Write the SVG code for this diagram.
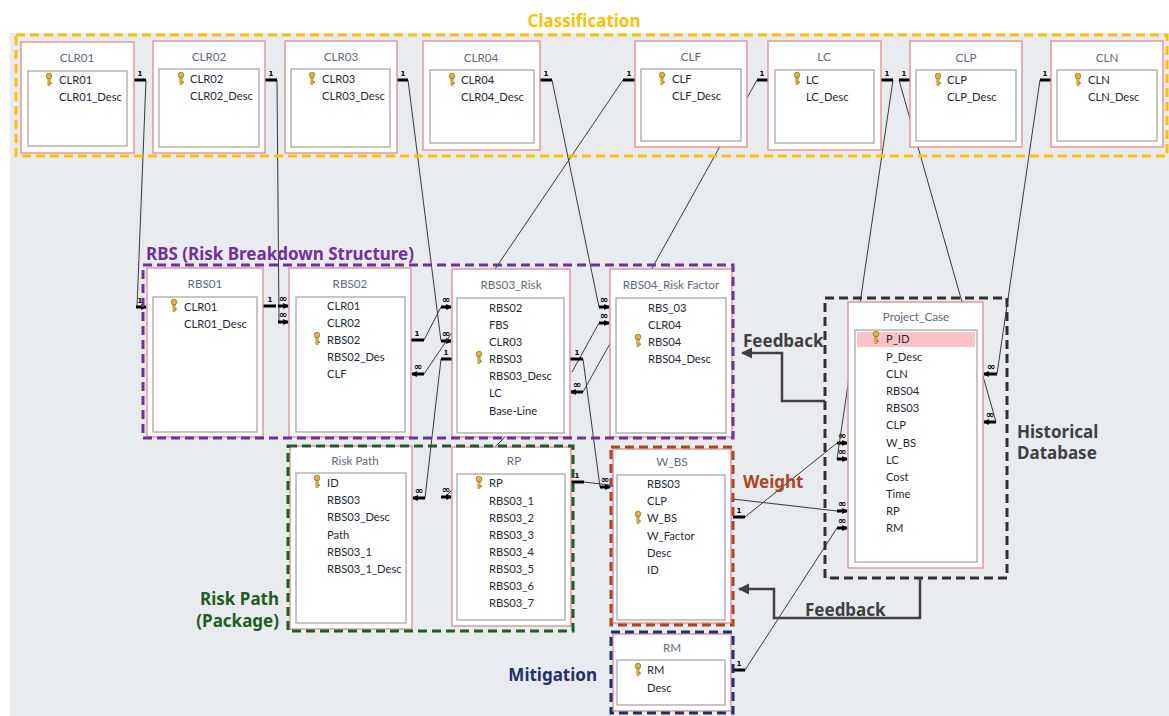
<svg xmlns="http://www.w3.org/2000/svg" width="1169" height="716" viewBox="0 0 1169 716">
<style>
.bg{fill:#e8ecef}
.tbl{fill:#ffffff;stroke:#e08a8e;stroke-width:1.3}
.inner{fill:#ffffff;stroke:#a8a8a8;stroke-width:1.3}
.ttl{font-family:Lato,"Noto Sans",sans-serif;font-size:11.7px;fill:#5d6b79;text-anchor:middle}
.fld{font-family:Lato,"Noto Sans",sans-serif;font-size:11.2px;fill:#1e2a36}
.ln{stroke:#3a3a3a;stroke-width:1;fill:none}
.bar{stroke:#000;stroke-width:3;fill:none}
.m1{font-family:"DejaVu Sans",sans-serif;font-size:7px;font-weight:bold;fill:#000;text-anchor:middle}
.mi{font-family:"DejaVu Sans",sans-serif;font-size:10px;font-weight:bold;fill:#000;text-anchor:middle}
.grp{fill:none;stroke-width:3;stroke-dasharray:9 5}
.lab{font-family:"Noto Sans","Open Sans",sans-serif;font-size:17px;font-weight:bold}
.fb{fill:none;stroke:#404040;stroke-width:2.5}
</style>
<defs>
<g id="key">
<circle cx="0" cy="-3" r="2.8" fill="#e2b43a" stroke="#8b6a14" stroke-width="0.7"/>
<rect x="-1.1" y="-0.5" width="2.2" height="7" fill="#e2b43a" stroke="#8b6a14" stroke-width="0.5"/>
<rect x="1" y="3.5" width="1.8" height="1.4" fill="#8b6a14"/>
</g>
<marker id="ar" viewBox="0 0 10 10" refX="8" refY="5" markerWidth="6" markerHeight="6" markerUnits="userSpaceOnUse" orient="auto"><path d="M0,0 L10,5 L0,10 z" fill="#000"/></marker>
<marker id="fa" viewBox="0 0 10 10" refX="9" refY="5" markerWidth="4.5" markerHeight="4.5" orient="auto"><path d="M0,0 L10,5 L0,10 z" fill="#404040"/></marker>
</defs>
<rect x="0" y="0" width="1169" height="716" fill="#ffffff"/>
<rect class="bg" x="10" y="33" width="1159" height="683"/>

<g id="connectors">
<!-- CLR01 -> RBS01 -->
<line class="ln" x1="146" y1="80" x2="137" y2="307"/>
<line class="bar" x1="134" y1="80" x2="146" y2="80"/><text class="m1" x="140" y="76">1</text>
<line class="bar" x1="136" y1="307" x2="146" y2="307" marker-end="url(#ar)"/><text class="m1" x="140" y="303">1</text>
<!-- CLR02 -> RBS02 -->
<line class="ln" x1="277" y1="80" x2="279" y2="322"/>
<line class="bar" x1="265" y1="80" x2="277" y2="80"/><text class="m1" x="271" y="76">1</text>
<line class="bar" x1="278" y1="322" x2="288" y2="322" marker-end="url(#ar)"/><text class="mi" x="283" y="318">∞</text>
<!-- RBS01 -> RBS02 -->
<line class="bar" x1="263" y1="306" x2="276" y2="306"/><text class="m1" x="270" y="302">1</text>
<line class="bar" x1="278" y1="306" x2="288" y2="306" marker-end="url(#ar)"/><text class="mi" x="283" y="302">∞</text>
<!-- CLR03 -> RBS03 -->
<line class="ln" x1="408" y1="80" x2="441" y2="341"/>
<line class="bar" x1="397" y1="80" x2="408" y2="80"/><text class="m1" x="403" y="76">1</text>
<line class="bar" x1="441" y1="341" x2="451" y2="341" marker-end="url(#ar)"/><text class="mi" x="446" y="337">∞</text>
<!-- RBS02 -> RBS03 -->
<line class="ln" x1="424" y1="340" x2="441" y2="307"/>
<line class="bar" x1="411" y1="340" x2="424" y2="340"/><text class="m1" x="417" y="336">1</text>
<line class="bar" x1="441" y1="307" x2="451" y2="307" marker-end="url(#ar)"/><text class="mi" x="446" y="303">∞</text>
<!-- CLF -> RBS02 -->
<line class="ln" x1="623" y1="80" x2="424" y2="374"/>
<line class="bar" x1="623" y1="80" x2="635" y2="80"/><text class="m1" x="629" y="76">1</text>
<line class="bar" x1="424" y1="374" x2="412" y2="374" marker-end="url(#ar)"/><text class="mi" x="418" y="370">∞</text>
<!-- RBS03 -> Risk Path -->
<line class="ln" x1="441" y1="359" x2="425" y2="498"/>
<line class="bar" x1="441" y1="359" x2="452" y2="359"/><text class="m1" x="446" y="355">1</text>
<line class="bar" x1="425" y1="498" x2="413" y2="498" marker-end="url(#ar)"/><text class="mi" x="419" y="494">∞</text>
<!-- RBS03 -> RP -->
<line class="ln" x1="445" y1="497" x2="525" y2="417"/>
<line class="bar" x1="441" y1="497" x2="451" y2="497" marker-end="url(#ar)"/><text class="mi" x="446" y="493">∞</text>
<!-- CLR04 -> RBS04 -->
<line class="ln" x1="552" y1="80" x2="599" y2="307"/>
<line class="bar" x1="540" y1="80" x2="552" y2="80"/><text class="m1" x="546" y="76">1</text>
<line class="bar" x1="599" y1="307" x2="609" y2="307" marker-end="url(#ar)"/><text class="mi" x="604" y="303">∞</text>
<!-- RBS03 -> RBS04 -->
<line class="ln" x1="572" y1="372" x2="599" y2="323"/>
<line class="bar" x1="599" y1="323" x2="609" y2="323" marker-end="url(#ar)"/><text class="mi" x="604" y="319">∞</text>
<line class="bar" x1="570" y1="359" x2="583" y2="359"/><text class="m1" x="577" y="355">1</text>
<!-- LC -> RBS03 -->
<line class="ln" x1="757" y1="80" x2="583" y2="392"/>
<line class="bar" x1="757" y1="80" x2="768" y2="80"/><text class="m1" x="762" y="76">1</text>
<line class="bar" x1="583" y1="392" x2="571" y2="392" marker-end="url(#ar)"/><text class="mi" x="577" y="388">∞</text>
<!-- RBS03 -> W_BS -->
<line class="ln" x1="583" y1="359" x2="600" y2="487"/>
<line class="bar" x1="600" y1="487" x2="610" y2="487" marker-end="url(#ar)"/><text class="mi" x="605" y="483">∞</text>
<!-- RP -> Project_Case -->
<line class="ln" x1="584" y1="482" x2="837" y2="511"/>
<line class="bar" x1="571" y1="482" x2="584" y2="482"/><text class="m1" x="577" y="478">1</text>
<line class="bar" x1="837" y1="511" x2="847" y2="511" marker-end="url(#ar)"/><text class="mi" x="842" y="507">∞</text>
<!-- W_BS -> Project_Case -->
<line class="ln" x1="745" y1="517" x2="837" y2="443"/>
<line class="bar" x1="733" y1="517" x2="745" y2="517"/><text class="m1" x="739" y="513">1</text>
<line class="bar" x1="837" y1="443" x2="847" y2="443" marker-end="url(#ar)"/><text class="mi" x="842" y="439">∞</text>
<!-- LC -> Project_Case -->
<line class="ln" x1="893" y1="80" x2="837" y2="459"/>
<line class="bar" x1="881" y1="80" x2="893" y2="80"/><text class="m1" x="887" y="76">1</text>
<line class="bar" x1="837" y1="459" x2="847" y2="459" marker-end="url(#ar)"/><text class="mi" x="842" y="455">∞</text>
<!-- RM -> Project_Case -->
<line class="ln" x1="745" y1="670" x2="837" y2="528"/>
<line class="bar" x1="733" y1="670" x2="745" y2="670"/><text class="m1" x="739" y="666">1</text>
<line class="bar" x1="837" y1="528" x2="847" y2="528" marker-end="url(#ar)"/><text class="mi" x="842" y="524">∞</text>
<!-- CLP -> Project_Case -->
<line class="ln" x1="899" y1="80" x2="996" y2="422"/>
<line class="bar" x1="899" y1="80" x2="910" y2="80"/><text class="m1" x="904" y="76">1</text>
<line class="bar" x1="996" y1="422" x2="984" y2="422" marker-end="url(#ar)"/><text class="mi" x="990" y="418">∞</text>
<!-- CLN -> Project_Case -->
<line class="ln" x1="1040" y1="80" x2="997" y2="374"/>
<line class="bar" x1="1040" y1="80" x2="1051" y2="80"/><text class="m1" x="1045" y="76">1</text>
<line class="bar" x1="997" y1="374" x2="984" y2="374" marker-end="url(#ar)"/><text class="mi" x="991" y="370">∞</text>
</g>

<g id="CLR01"><rect class="tbl" x="21" y="42" width="113" height="111"/><text class="ttl" x="77" y="62">CLR01</text><rect class="inner" x="28" y="71" width="99" height="75"/><use href="#key" x="49" y="79"/><text class="fld" x="59" y="84">CLR01</text><text class="fld" x="59" y="101">CLR01_Desc</text></g>
<g id="CLR02"><rect class="tbl" x="153" y="41" width="112" height="112"/><text class="ttl" x="209" y="61">CLR02</text><rect class="inner" x="159" y="69" width="100" height="78"/><use href="#key" x="181" y="78"/><text class="fld" x="190" y="83">CLR02</text><text class="fld" x="190" y="100">CLR02_Desc</text></g>
<g id="CLR03"><rect class="tbl" x="285" y="41" width="112" height="112"/><text class="ttl" x="341" y="61">CLR03</text><rect class="inner" x="291" y="69" width="99" height="78"/><use href="#key" x="312" y="78"/><text class="fld" x="322" y="83">CLR03</text><text class="fld" x="322" y="100">CLR03_Desc</text></g>
<g id="CLR04"><rect class="tbl" x="423" y="41" width="117" height="109"/><text class="ttl" x="481" y="62">CLR04</text><rect class="inner" x="430" y="70" width="104" height="73"/><use href="#key" x="452" y="79"/><text class="fld" x="461" y="84">CLR04</text><text class="fld" x="461" y="101">CLR04_Desc</text></g>
<g id="CLF"><rect class="tbl" x="635" y="41" width="112" height="106"/><text class="ttl" x="691" y="61">CLF</text><rect class="inner" x="641" y="69" width="100" height="72"/><use href="#key" x="662" y="78"/><text class="fld" x="672" y="83">CLF</text><text class="fld" x="672" y="100">CLF_Desc</text></g>
<g id="LC"><rect class="tbl" x="768" y="41" width="113" height="109"/><text class="ttl" x="824" y="61">LC</text><rect class="inner" x="775" y="70" width="99" height="73"/><use href="#key" x="797" y="78"/><text class="fld" x="806" y="84">LC</text><text class="fld" x="806" y="101">LC_Desc</text></g>
<g id="CLP"><rect class="tbl" x="910" y="41" width="112" height="106"/><text class="ttl" x="966" y="62">CLP</text><rect class="inner" x="916" y="70" width="100" height="71"/><use href="#key" x="938" y="79"/><text class="fld" x="947" y="84">CLP</text><text class="fld" x="947" y="101">CLP_Desc</text></g>
<g id="CLN"><rect class="tbl" x="1051" y="41" width="112" height="106"/><text class="ttl" x="1107" y="62">CLN</text><rect class="inner" x="1057" y="70" width="100" height="71"/><use href="#key" x="1078" y="79"/><text class="fld" x="1088" y="84">CLN</text><text class="fld" x="1088" y="101">CLN_Desc</text></g>

<g id="RBS01"><rect class="tbl" x="147" y="268" width="116" height="169"/><text class="ttl" x="205" y="288">RBS01</text><rect class="inner" x="153" y="297" width="104" height="135"/><use href="#key" x="174" y="305"/><text class="fld" x="184" y="311">CLR01</text><text class="fld" x="184" y="328">CLR01_Desc</text></g>
<g id="RBS02"><rect class="tbl" x="289" y="268" width="122" height="169"/><text class="ttl" x="350" y="288">RBS02</text><rect class="inner" x="296" y="297" width="109" height="135"/><use href="#key" x="317" y="338"/><text class="fld" x="327" y="310">CLR01</text><text class="fld" x="327" y="327">CLR02</text><text class="fld" x="327" y="344">RBS02</text><text class="fld" x="327" y="361">RBS02_Des</text><text class="fld" x="327" y="378">CLF</text></g>
<g id="RBS03_Risk"><rect class="tbl" x="452" y="269" width="118" height="168"/><text class="ttl" x="511" y="289">RBS03_Risk</text><rect class="inner" x="457" y="298" width="107" height="135"/><use href="#key" x="479" y="357"/><text class="fld" x="489" y="312">RBS02</text><text class="fld" x="489" y="329">FBS</text><text class="fld" x="489" y="346">CLR03</text><text class="fld" x="489" y="363">RBS03</text><text class="fld" x="489" y="380">RBS03_Desc</text><text class="fld" x="489" y="397">LC</text><text class="fld" x="489" y="415">Base-Line</text></g>
<g id="RBS04_Risk_Factor"><rect class="tbl" x="610" y="269" width="122" height="168"/><text class="ttl" x="671" y="289">RBS04_Risk Factor</text><rect class="inner" x="616" y="298" width="110" height="135"/><use href="#key" x="638" y="340"/><text class="fld" x="648" y="312">RBS_03</text><text class="fld" x="648" y="329">CLR04</text><text class="fld" x="648" y="346">RBS04</text><text class="fld" x="648" y="363">RBS04_Desc</text></g>

<g id="Risk_Path"><rect class="tbl" x="290" y="446" width="122" height="183"/><text class="ttl" x="355" y="465">Risk Path</text><rect class="inner" x="296" y="473" width="110" height="150"/><use href="#key" x="317" y="481"/><text class="fld" x="327" y="487">ID</text><text class="fld" x="327" y="504">RBS03</text><text class="fld" x="327" y="521">RBS03_Desc</text><text class="fld" x="327" y="539">Path</text><text class="fld" x="327" y="556">RBS03_1</text><text class="fld" x="327" y="573">RBS03_1_Desc</text></g>
<g id="RP"><rect class="tbl" x="452" y="447" width="119" height="179"/><text class="ttl" x="514" y="465">RP</text><rect class="inner" x="457" y="474" width="108" height="146"/><use href="#key" x="479" y="482"/><text class="fld" x="489" y="487">RP</text><text class="fld" x="489" y="505">RBS03_1</text><text class="fld" x="489" y="522">RBS03_2</text><text class="fld" x="489" y="539">RBS03_3</text><text class="fld" x="489" y="556">RBS03_4</text><text class="fld" x="489" y="573">RBS03_5</text><text class="fld" x="489" y="590">RBS03_6</text><text class="fld" x="489" y="607">RBS03_7</text></g>
<g id="W_BS"><rect class="tbl" x="613" y="449" width="118" height="174"/><text class="ttl" x="672" y="466">W_BS</text><rect class="inner" x="617" y="475" width="108" height="145"/><use href="#key" x="638" y="517"/><text class="fld" x="647" y="488">RBS03</text><text class="fld" x="647" y="505">CLP</text><text class="fld" x="647" y="522">W_BS</text><text class="fld" x="647" y="540">W_Factor</text><text class="fld" x="647" y="557">Desc</text><text class="fld" x="647" y="574">ID</text></g>
<g id="RM"><rect class="tbl" x="613" y="634" width="118" height="77"/><text class="ttl" x="672" y="652">RM</text><rect class="inner" x="617" y="660" width="108" height="45"/><use href="#key" x="638" y="669"/><text class="fld" x="647" y="674">RM</text><text class="fld" x="647" y="692">Desc</text></g>
<g id="Project_Case"><rect class="tbl" x="848" y="302" width="135" height="266"/><text class="ttl" x="916" y="321">Project_Case</text><rect class="inner" x="855" y="330" width="122" height="232"/><rect x="857" y="332" width="118" height="15" fill="#ffc2c8"/><use href="#key" x="876" y="337"/><text class="fld" x="886" y="343">P_ID</text><text class="fld" x="886" y="361">P_Desc</text><text class="fld" x="886" y="378">CLN</text><text class="fld" x="886" y="395">RBS04</text><text class="fld" x="886" y="412">RBS03</text><text class="fld" x="886" y="429">CLP</text><text class="fld" x="886" y="447">W_BS</text><text class="fld" x="886" y="464">LC</text><text class="fld" x="886" y="481">Cost</text><text class="fld" x="886" y="498">Time</text><text class="fld" x="886" y="515">RP</text><text class="fld" x="886" y="532">RM</text></g>

<g id="groups">
<rect class="grp" x="16" y="35" width="1151" height="121" stroke="#ffc000"/>
<rect class="grp" x="143" y="265" width="590" height="173" stroke="#7030a0"/>
<rect class="grp" x="288" y="446" width="285" height="185" stroke="#1e5e20"/>
<rect class="grp" x="611" y="447" width="122" height="178" stroke="#b0441a"/>
<rect class="grp" x="611" y="632" width="122" height="81" stroke="#1f2f6f"/>
<rect class="grp" x="825" y="298" width="182" height="280" stroke="#303030"/>
</g>

<g id="labels">
<text class="lab" x="584" y="27" fill="#ffc000" text-anchor="middle" font-size="18">Classification</text>
<text class="lab" x="146" y="260" fill="#7030a0">RBS (Risk Breakdown Structure)</text>
<text class="lab" x="279" y="605" fill="#1e5e20" text-anchor="end">Risk Path</text>
<text class="lab" x="279" y="627" fill="#1e5e20" text-anchor="end">(Package)</text>
<text class="lab" x="743" y="488" fill="#b0441a">Weight</text>
<text class="lab" x="597" y="681" fill="#1f2f6f" text-anchor="end">Mitigation</text>
<text class="lab" x="743" y="347" fill="#404040">Feedback</text>
<text class="lab" x="805" y="616" fill="#404040">Feedback</text>
<text class="lab" x="1017" y="438" fill="#404040">Historical</text>
<text class="lab" x="1017" y="459" fill="#404040">Database</text>
</g>

<g id="feedback-arrows">
<path class="fb" d="M825,401 H782 V353 H742" marker-end="url(#fa)"/>
<path class="fb" d="M920,578 V618 H774 V589 H739" marker-end="url(#fa)"/>
</g>
</svg>
